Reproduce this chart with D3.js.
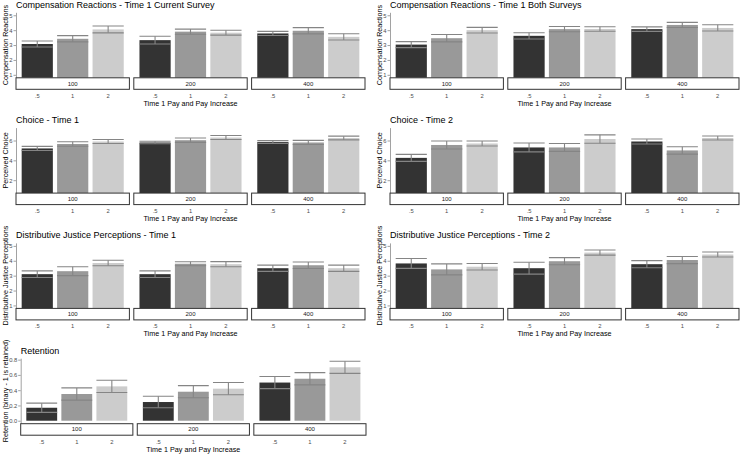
<!DOCTYPE html>
<html><head><meta charset="utf-8">
<script src="https://cdn.jsdelivr.net/npm/d3@7"></script>
<style>body{margin:0;background:#fff} svg{display:block} text{font-family:"Liberation Sans",Arial,sans-serif}</style>
</head><body><svg id="c" width="740" height="455"></svg>
<script>
// ---------- data ----------
const facets = ["100", "200", "400"];
const payLevels = [".5", "1", "2"];
const xTitle = "Time 1 Pay and Pay Increase";
// values ordered facet-major: 100(.5,1,2), 200(.5,1,2), 400(.5,1,2)
const compCurrentMean = [3.07, 3.42, 4.05, 3.33, 3.90, 3.83, 3.78, 3.96, 3.55];
const compCurrentErr  = [0.20, 0.21, 0.23, 0.26, 0.17, 0.16, 0.14, 0.21, 0.21];
const compBothMean    = [3.03, 3.46, 4.00, 3.62, 4.07, 4.08, 4.07, 4.35, 4.15];
const compBothErr     = [0.20, 0.25, 0.19, 0.21, 0.18, 0.15, 0.15, 0.17, 0.21];
const choiceT1Mean    = [5.20, 5.65, 5.90, 5.80, 6.03, 6.30, 5.85, 5.80, 6.25];
const choiceT1Err     = [0.21, 0.23, 0.20, 0.13, 0.22, 0.20, 0.14, 0.21, 0.19];
const choiceT2Mean    = [4.25, 5.55, 5.70, 5.30, 5.30, 6.15, 5.90, 5.00, 6.25];
const choiceT2Err     = [0.35, 0.40, 0.25, 0.45, 0.40, 0.42, 0.25, 0.37, 0.20];
const djT1Mean        = [3.10, 3.30, 3.85, 3.10, 3.80, 3.77, 3.50, 3.70, 3.50];
const djT1Err         = [0.22, 0.30, 0.18, 0.22, 0.13, 0.17, 0.21, 0.22, 0.21];
const djT2Mean        = [3.82, 3.42, 3.60, 3.50, 3.97, 4.55, 3.77, 4.05, 4.42];
const djT2Err         = [0.33, 0.37, 0.22, 0.40, 0.24, 0.17, 0.24, 0.24, 0.17];
const retentionMean   = [0.17, 0.35, 0.45, 0.245, 0.38, 0.42, 0.50, 0.55, 0.70];
const retentionErr    = [0.06, 0.08, 0.08, 0.075, 0.08, 0.08, 0.08, 0.08, 0.08];

const ticks15 = [1, 2, 3, 4, 5];
const ticks17 = [2, 4, 6];
const ticksRet = [0, 0.2, 0.4, 0.6, 0.8];

const panels = [
  {title: "Compensation Reactions - Time 1 Current Survey", ylab: "Compensation Reactions", mean: compCurrentMean, err: compCurrentErr, lim: [1, 5], ticks: ticks15, fmt: d3.format("d"), col: 0, row: 0},
  {title: "Compensation Reactions - Time 1 Both Surveys", ylab: "Compensation Reactions", mean: compBothMean, err: compBothErr, lim: [1, 5], ticks: ticks15, fmt: d3.format("d"), col: 1, row: 0},
  {title: "Choice - Time 1", ylab: "Perceived Choice", mean: choiceT1Mean, err: choiceT1Err, lim: [1, 7], ticks: ticks17, fmt: d3.format("d"), col: 0, row: 1},
  {title: "Choice - Time 2", ylab: "Perceived Choice", mean: choiceT2Mean, err: choiceT2Err, lim: [1, 7], ticks: ticks17, fmt: d3.format("d"), col: 1, row: 1},
  {title: "Distributive Justice Perceptions - Time 1", ylab: "Distributive Justice Perceptions", mean: djT1Mean, err: djT1Err, lim: [1, 5], ticks: ticks15, fmt: d3.format("d"), col: 0, row: 2},
  {title: "Distributive Justice Perceptions - Time 2", ylab: "Distributive Justice Perceptions", mean: djT2Mean, err: djT2Err, lim: [1, 5], ticks: ticks15, fmt: d3.format("d"), col: 1, row: 2},
  {title: "Retention", ylab: "Retention (binary - 1 is retained)", mean: retentionMean, err: retentionErr, lim: null, ticks: ticksRet, fmt: d3.format(".1f"), col: 0, row: 3}
];

// ---------- style / layout ----------
const fills = ["#333333", "#999999", "#cccccc"];
const colBase = [0, 374];
const rowPitch = 115.3, firstTop = 12.3, panelH = 65.5;
const stripH = 11.5, facetGap = 4.4;

const svg = d3.select("#c");

panels.forEach(p => {
  const left = colBase[p.col] + (p.lim ? 16 : 20.7);
  const panelW = p.lim ? 349 : 345.3;
  const top = firstTop + rowPitch * p.row;
  const g = svg.append("g").attr("transform", `translate(${left},${top})`);

  let dom;
  if (p.lim) {
    const pad = (p.lim[1] - p.lim[0]) * 0.05;
    dom = [p.lim[0] - pad, p.lim[1] + pad];
  } else {
    const hi = d3.max(p.mean.map((m, i) => m + p.err[i]));
    const lo = 0;
    const pad = (hi - lo) * 0.05;
    dom = [lo - pad, hi + pad];
  }
  const y = d3.scaleLinear().domain(dom).range([panelH, 0]);
  const facetW = (panelW - 2 * facetGap) / 3;
  const fx = d3.scaleBand().domain(facets).range([0, panelW]).paddingInner(facetGap / (facetW + facetGap)).paddingOuter(0);
  const x = d3.scaleBand().domain(payLevels).range([0, fx.bandwidth()]).paddingInner(0.12).paddingOuter(0.16);

  // title
  g.append("text").attr("x", 0).attr("y", -4.7).attr("font-size", 9).attr("fill", "#000").text(p.title);

  // y title
  g.append("text")
    .attr("transform", `translate(${colBase[p.col] + 5 - left},${panelH / 2}) rotate(-90)`)
    .attr("text-anchor", "middle").attr("dominant-baseline", "central")
    .attr("font-size", 7.2).attr("fill", "#000").text(p.ylab);

  // y axis
  const ax = g.append("g").call(d3.axisLeft(y).tickValues(p.ticks).tickFormat(p.fmt).tickSize(2.5).tickSizeOuter(0).tickPadding(1));
  ax.select(".domain").attr("stroke", "#8a8a8a").attr("stroke-width", 0.8);
  ax.selectAll(".tick line").attr("stroke", "#8a8a8a").attr("stroke-width", 0.8);
  ax.selectAll(".tick text").attr("font-size", 5.8).attr("fill", "#4d4d4d").attr("font-family", "Liberation Sans, Arial, sans-serif");

  const clipId = "clip" + p.col + p.row;
  g.append("clipPath").attr("id", clipId).append("rect").attr("x", 0).attr("y", 0).attr("width", panelW).attr("height", panelH);
  const plot = g.append("g").attr("clip-path", `url(#${clipId})`);

  facets.forEach((f, fi) => {
    const fg = plot.append("g").attr("transform", `translate(${fx(f)},0)`);
    payLevels.forEach((lv, li) => {
      const k = fi * 3 + li;
      const m = p.mean[k], e = p.err[k];
      const base = Math.min(y(0), panelH + 1);
      fg.append("rect").attr("x", x(lv)).attr("width", x.bandwidth())
        .attr("y", y(m)).attr("height", base - y(m)).attr("fill", fills[li]);
      const cx = x(lv) + x.bandwidth() / 2;
      const eg = fg.append("g").attr("stroke", "#858585").attr("stroke-width", 1.1).attr("fill", "none");
      eg.append("line").attr("x1", cx).attr("x2", cx).attr("y1", y(m - e)).attr("y2", y(m + e));
      eg.append("line").attr("x1", x(lv)).attr("x2", x(lv) + x.bandwidth()).attr("y1", y(m + e)).attr("y2", y(m + e));
      eg.append("line").attr("x1", x(lv)).attr("x2", x(lv) + x.bandwidth()).attr("y1", y(m - e)).attr("y2", y(m - e));
    });
  });

  // strips + x tick labels
  facets.forEach(f => {
    const sg = g.append("g").attr("transform", `translate(${fx(f)},0)`);
    sg.append("rect").attr("x", 0).attr("y", panelH).attr("width", fx.bandwidth()).attr("height", stripH)
      .attr("fill", "#fff").attr("stroke", "#333").attr("stroke-width", 1);
    sg.append("text").attr("x", fx.bandwidth() / 2).attr("y", panelH + stripH / 2)
      .attr("text-anchor", "middle").attr("dominant-baseline", "central")
      .attr("font-size", 6).attr("fill", "#1a1a1a").text(f);
    payLevels.forEach(lv => {
      sg.append("text").attr("x", x(lv) + x.bandwidth() / 2).attr("y", panelH + 18)
        .attr("text-anchor", "middle").attr("dominant-baseline", "central")
        .attr("font-size", 5.8).attr("fill", "#4d4d4d").text(lv);
    });
  });

  // x title
  g.append("text").attr("x", panelW / 2).attr("y", panelH + 25.5)
    .attr("text-anchor", "middle").attr("dominant-baseline", "central")
    .attr("font-size", 7.2).attr("fill", "#000").text(xTitle);
});
</script></body></html>
